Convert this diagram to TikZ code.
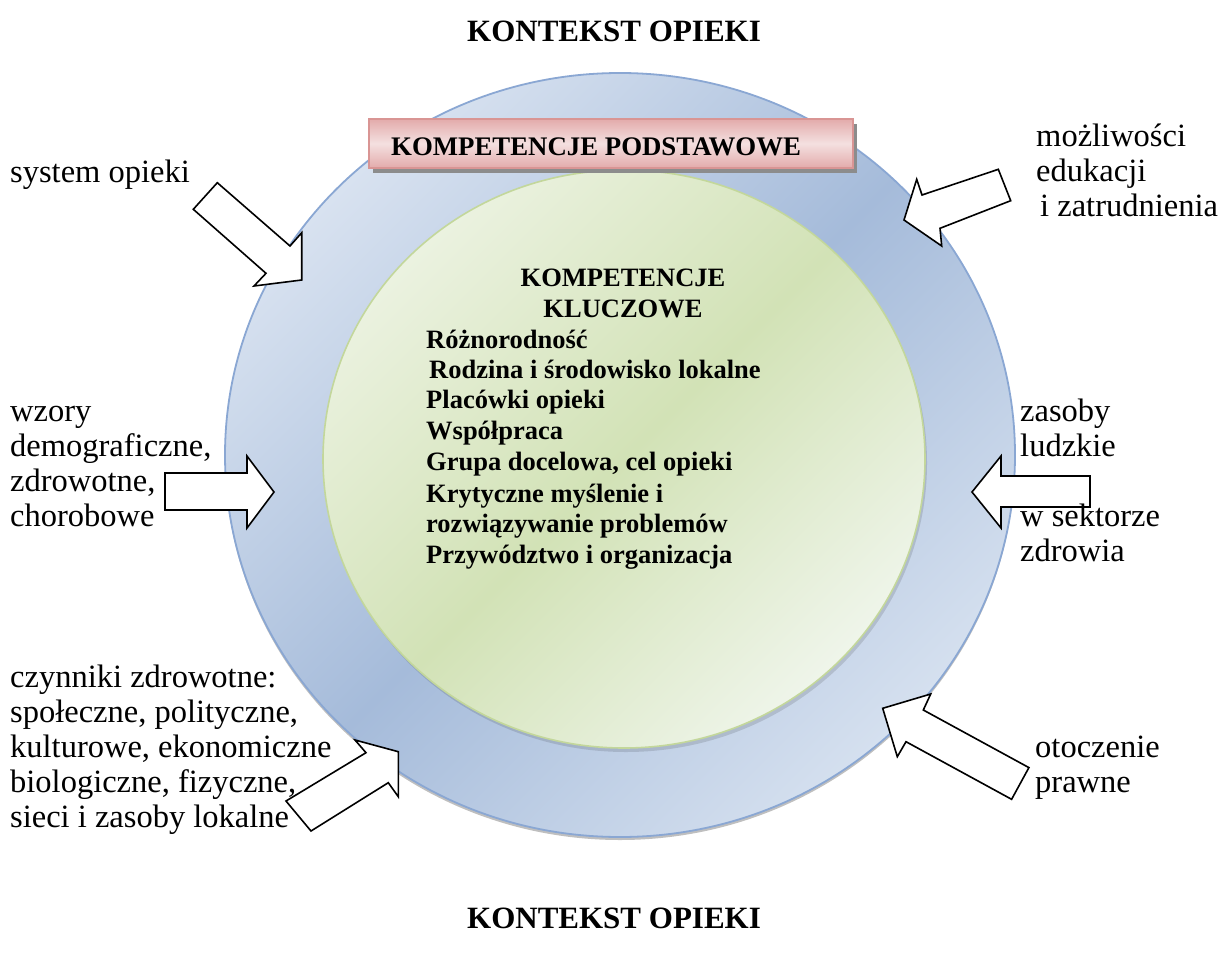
\documentclass[tikz,border=0pt]{standalone}
\usepackage{fontspec}
\setmainfont{Liberation Serif}
\definecolor{ringlight}{HTML}{D8E2F0}
\definecolor{ringlight2}{HTML}{D5E0EF}
\definecolor{ringdark}{HTML}{A5BBDA}
\definecolor{ringedge}{HTML}{8AA7D3}
\definecolor{greenlight}{HTML}{EBF2E0}
\definecolor{greenlight2}{HTML}{EFF5EA}
\definecolor{greendark}{HTML}{D2E2B6}
\definecolor{greenedge}{HTML}{C3D79B}
\definecolor{pinkedge}{HTML}{D99594}
\definecolor{pinklight}{HTML}{F4E0E0}
\definecolor{pinkdark}{HTML}{E3ABAB}
\begin{document}
\begin{tikzpicture}[x=1pt,y=-1pt,
  lab/.style={anchor=base west, inner sep=0pt, font=\fontsize{32.5}{35}\selectfont},
  title/.style={anchor=base, inner sep=0pt, font=\bfseries\fontsize{31}{35.6}\selectfont},
  keylab/.style={anchor=base west, inner sep=0pt, font=\bfseries\fontsize{26.5}{30.5}\selectfont},
  keyhead/.style={anchor=base, inner sep=0pt, font=\bfseries\fontsize{26.5}{30.5}\selectfont},
  blockarrow/.style={draw=black, fill=white, line width=1.6pt, line join=miter},
  shadowfill/.style={fill=black, opacity=0.25},
]
\useasboundingbox (0,0) rectangle (1228,961);
\fill[white] (0,0) rectangle (1228,961);

% outer ring
\coordinate (oc) at (620,455);
\fill[shadowfill] (620,458) ellipse [x radius=395pt, y radius=382pt];
\shade[top color=ringlight, bottom color=ringlight2, middle color=ringdark, shading angle=45]
  (oc) ellipse [x radius=395pt, y radius=382pt];
\draw[ringedge, line width=1.8pt] (oc) ellipse [x radius=395pt, y radius=382pt];

% inner circle
\coordinate (ic) at (624,459);
\fill[black, opacity=0.12] (626,463) ellipse [x radius=301pt, y radius=289pt];
\shade[top color=greenlight, bottom color=greenlight2, middle color=greendark, shading angle=45]
  (ic) ellipse [x radius=301pt, y radius=289pt];
\draw[greenedge, line width=1.6pt] (ic) ellipse [x radius=301pt, y radius=289pt];

% pink box
\fill[black!45] (373,124) rectangle (857,173);
\shade[top color=pinkdark, bottom color=pinkdark, middle color=pinklight]
  (369,119) rectangle (853,168);
\draw[pinkedge, line width=1.4pt] (369,119) rectangle (853,168);
\node[anchor=base west, inner sep=0pt, font=\bfseries\fontsize{26.8}{30.5}\selectfont] (podst) at (391,155) {KOMPETENCJE PODSTAWOWE};

% titles
\node[title] (ttop) at (614,41) {KONTEKST OPIEKI};
\node[title] (tbot) at (614,928) {KONTEKST OPIEKI};

% key competences
\node[keyhead] (kh1) at (623,286) {KOMPETENCJE};
\node[keyhead] (kh2) at (623,317) {KLUCZOWE};
\node[keylab] (k1) at (426,348) {Różnorodność};
\node[keylab] (k2) at (429,378) {Rodzina i środowisko lokalne};
\node[keylab] (k3) at (426,408) {Placówki opieki};
\node[keylab] (k4) at (426,439) {Współpraca};
\node[keylab] (k5) at (426,470) {Grupa docelowa, cel opieki};
\node[keylab] (k6) at (426,502) {Krytyczne myślenie i};
\node[keylab] (k7) at (426,532) {rozwiązywanie problemów};
\node[keylab] (k8) at (426,563) {Przywództwo i organizacja};

% block arrows
\draw[blockarrow] (217.3,182.7) -- (290,246) -- (301.7,232.7) -- (301.7,280) -- (254,286) -- (266,273.3) -- (193.3,209.3) -- cycle;
\draw[blockarrow] (998.3,169.3) -- (922,195) -- (916.7,179.3) -- (904,220) -- (941.7,246) -- (940,228.3) -- (1010.7,200.7) -- cycle;
\draw[blockarrow] (165,473) -- (247,473) -- (247,456) -- (274,492) -- (247,528) -- (247,510) -- (165,510) -- cycle;
\draw[blockarrow] (1090,476) -- (1001,476) -- (1001,456) -- (972,492) -- (1001,528) -- (1001,507) -- (1090,507) -- cycle;
\draw[blockarrow] (286,801) -- (366,752.7) -- (355,740) -- (398.3,751.7) -- (398.3,796.7) -- (388.3,782.7) -- (311,831) -- cycle;
\draw[blockarrow] (882.7,708.3) -- (930.7,694) -- (923.3,710) -- (1028.9,767.6) -- (1011.6,799.3) -- (906,741.7) -- (897.3,756.7) -- cycle;

% labels
\node[lab] (l1) at (10,182) {system opieki};
\node[lab] (l2a) at (10,421) {wzory};
\node[lab] (l2b) at (10,456) {demograficzne,};
\node[lab] (l2c) at (10,491) {zdrowotne,};
\node[lab] (l2d) at (10,526) {chorobowe};
\node[lab] (l3a) at (10,687) {czynniki zdrowotne:};
\node[lab] (l3b) at (10,722) {społeczne, polityczne,};
\node[lab] (l3c) at (10,757) {kulturowe, ekonomiczne};
\node[lab] (l3d) at (10,792) {biologiczne, fizyczne,};
\node[lab] (l3e) at (10,827) {sieci i zasoby lokalne};
\node[lab] (r1a) at (1036,146) {możliwości};
\node[lab] (r1b) at (1036,181) {edukacji};
\node[lab] (r1c) at (1040,216) {i zatrudnienia};
\node[lab] (r2a) at (1020,421) {zasoby};
\node[lab] (r2b) at (1020,456) {ludzkie};
\node[lab] (r2c) at (1020,526) {w sektorze};
\node[lab] (r2d) at (1020,561) {zdrowia};
\node[lab] (r3a) at (1035,757) {otoczenie};
\node[lab] (r3b) at (1035,792) {prawne};
\end{tikzpicture}
\end{document}
